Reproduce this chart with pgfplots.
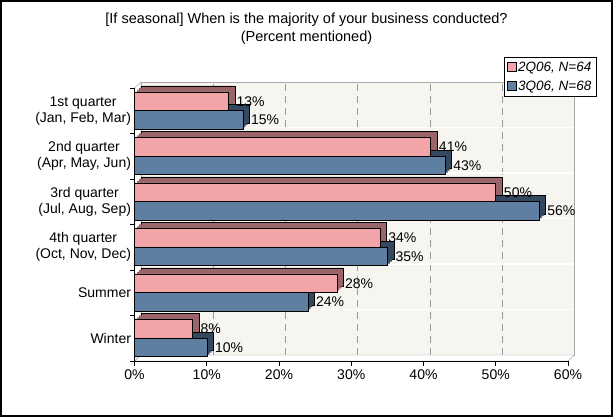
\documentclass[border=0pt]{standalone}
\usepackage{fontspec}
\setmainfont{Liberation Sans}
\usepackage{pgfplots}
\usepackage{pgfplotstable}
\pgfplotsset{compat=1.18}
\definecolor{pinkbar}{HTML}{F2A4A8}
\definecolor{pinkdark}{HTML}{9A6468}
\definecolor{bluebar}{HTML}{5E7FA2}
\definecolor{bluedark}{HTML}{34495F}
\definecolor{wall}{HTML}{F6F5F0}

% y: category position (0 = Winter ... 5 = 1st quarter)
\pgfplotstableread{
y q2 q3
5 13 15
4 41 43
3 50 56
2 34 35
1 28 24
0 8 10
}\datatable

\newcommand{\lblfont}{\fontsize{14}{16}\selectfont}

\begin{document}
\begin{tikzpicture}
\useasboundingbox (0pt,0pt) rectangle (613pt,417pt);
\draw[line width=1.2pt] (1pt,1pt) rectangle (612pt,416pt);
\node[align=center, font=\fontsize{14.5}{18}\selectfont] at (306.5pt,388pt) {[If seasonal] When is the majority of your business conducted?\\(Percent mentioned)};

% back wall
\begin{axis}[at={(141pt,62pt)}, anchor=south west, scale only axis,
  width=433.5pt, height=273pt, xmin=0, xmax=60, ymin=-0.5, ymax=5.5,
  axis background/.style={fill=wall},
  axis line style={draw=gray!70},
  xtick={10,20,...,50}, ytick={0.5,1.5,...,4.5},
  xticklabels={}, yticklabels={}, major tick length=0pt,
  xmajorgrids, ymajorgrids,
  x grid style={gray!80, line width=0.7pt, dash pattern=on 7pt off 5pt},
  y grid style={white, line width=1.5pt}]
\end{axis}

% floor and left wall
\filldraw[fill=white, draw=gray!80] (134.5pt,56pt) -- (568pt,56pt) -- (574.5pt,62pt) -- (141pt,62pt) -- cycle;
\filldraw[fill=white, draw=gray!80] (134.5pt,56pt) -- (141pt,62pt) -- (141pt,335pt) -- (134.5pt,329pt) -- cycle;

\begin{axis}[at={(134.5pt,56pt)}, anchor=south west, scale only axis,
  width=433.5pt, height=273pt, xmin=0, xmax=60, ymin=-0.5, ymax=5.5,
  xbar, bar width=18.5pt, bar shift=0pt,
  axis x line*=bottom, axis y line*=left,
  axis line style={black, line width=0.8pt},
  tick align=outside, major tick length=5pt,
  tick style={black, line width=0.8pt},
  xtick={0,10,...,60},
  xticklabel={\pgfmathprintnumber{\tick}\%},
  /pgf/number format/assume math mode=true,
  ticklabel style={font=\lblfont},
  ytick={-0.5,0.5,...,5.5}, yticklabels={},
  extra y ticks={0,1,2,3,4,5},
  extra y tick labels={Winter,Summer,{4th quarter\\(Oct, Nov, Dec)},{3rd quarter\\(Jul, Aug, Sep)},{2nd quarter\\(Apr, May, Jun)},{1st quarter\\(Jan, Feb, Mar)}},
  extra y tick style={major tick length=0pt, yticklabel style={align=center, font=\lblfont}},
  legend style={at={(1.0646,1.1136)}, anchor=north east, font=\fontsize{13.5}{15}\selectfont\itshape,
    draw=black, fill=white, inner sep=2.5pt, row sep=4pt, cells={anchor=west}},
  legend image code/.code={\draw[#1,draw=black,line width=0.5pt] (0pt,-4.5pt) rectangle (9pt,4.5pt);},
  clip=false]

% 3D depth copies (pink)
\addplot[fill=pinkdark, draw=black, line width=0.4pt, xshift=6.5pt, yshift=6pt, forget plot] table[x=q2,y expr=\thisrow{y}+0.21]{\datatable};
\addplot[fill=pinkdark, draw=none, xshift=4.5pt, yshift=4pt, forget plot] table[x=q2,y expr=\thisrow{y}+0.21]{\datatable};
\addplot[fill=pinkdark, draw=none, xshift=2.5pt, yshift=2pt, forget plot] table[x=q2,y expr=\thisrow{y}+0.21]{\datatable};
% 3D depth copies (blue)
\addplot[fill=bluedark, draw=black, line width=0.4pt, xshift=6.5pt, yshift=6pt, forget plot] table[x=q3,y expr=\thisrow{y}-0.2]{\datatable};
\addplot[fill=bluedark, draw=none, xshift=4.5pt, yshift=4pt, forget plot] table[x=q3,y expr=\thisrow{y}-0.2]{\datatable};
\addplot[fill=bluedark, draw=none, xshift=2.5pt, yshift=2pt, forget plot] table[x=q3,y expr=\thisrow{y}-0.2]{\datatable};

% front faces
\addplot[fill=pinkbar, draw=black, line width=0.5pt,
  point meta=explicit, nodes near coords={\pgfmathprintnumber{\pgfplotspointmeta}\%},
  every node near coord/.append style={font=\lblfont, xshift=7.5pt, inner sep=0.5pt, anchor=west, black}]
  table[x=q2,y expr=\thisrow{y}+0.21, meta=q2]{\datatable};
\addlegendentry{2Q06, N=64}
\addplot[fill=bluebar, draw=black, line width=0.5pt,
  point meta=explicit, nodes near coords={\pgfmathprintnumber{\pgfplotspointmeta}\%},
  every node near coord/.append style={font=\lblfont, xshift=7.5pt, inner sep=0.5pt, anchor=west, black}]
  table[x=q3,y expr=\thisrow{y}-0.2, meta=q3]{\datatable};
\addlegendentry{3Q06, N=68}
\end{axis}
\end{tikzpicture}
\end{document}
